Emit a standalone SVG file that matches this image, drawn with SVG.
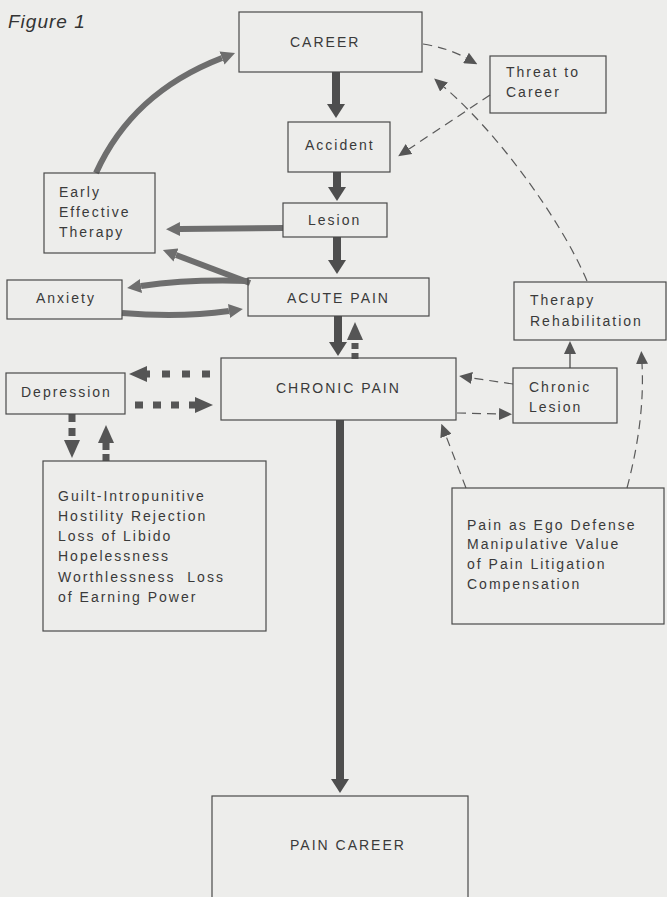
<svg xmlns="http://www.w3.org/2000/svg" width="667" height="897" viewBox="0 0 667 897">
<defs>
<style>
.bg{fill:#ededeb}
.box{fill:none;stroke:#4a4a4a;stroke-width:1.2}
.t{font-family:"Liberation Sans",Arial,sans-serif;font-size:14px;letter-spacing:2px;fill:#3a3a3a}
.fig{font-family:"Liberation Sans",Arial,sans-serif;font-size:19px;font-style:italic;letter-spacing:1px;fill:#333}
.main{fill:none;stroke:#4e4e4e;stroke-width:8}
.grey{fill:none;stroke:#6e6e6e;stroke-width:6}
.sq{fill:none;stroke:#555;stroke-width:7}
.thin{fill:none;stroke:#5a5a5a;stroke-width:1.2;stroke-dasharray:9 6}
.solid{fill:none;stroke:#5a5a5a;stroke-width:1.4}
</style>
<marker id="hd" markerUnits="userSpaceOnUse" markerWidth="14" markerHeight="18" refX="0" refY="9" orient="auto"><path d="M0,0 L14,9 L0,18 z" fill="#4e4e4e"/></marker>
<marker id="hg" markerUnits="userSpaceOnUse" markerWidth="14" markerHeight="14" refX="0" refY="7" orient="auto"><path d="M0,0 L14,7 L0,14 z" fill="#6e6e6e"/></marker>
<marker id="hs" markerUnits="userSpaceOnUse" markerWidth="18" markerHeight="16" refX="0" refY="8" orient="auto"><path d="M0,0 L18,8 L0,16 z" fill="#555"/></marker>
<marker id="ht" markerUnits="userSpaceOnUse" markerWidth="13" markerHeight="12" refX="0" refY="6" orient="auto"><path d="M0,0 L13,6 L0,12 z" fill="#555"/></marker>
</defs>
<rect class="bg" x="0" y="0" width="667" height="897"/>
<text class="fig" x="8" y="28">Figure 1</text>

<g id="connectors">
<path class="main" d="M336 72 L336 104" marker-end="url(#hd)"/>
<path class="main" d="M337 172 L337 187" marker-end="url(#hd)"/>
<path class="main" d="M337 237 L337 260" marker-end="url(#hd)"/>
<path class="main" d="M338 316 L338 342" marker-end="url(#hd)"/>
<path class="main" d="M340 420 L340 779" stroke-width="7" marker-end="url(#hd)"/>
<path class="sq" d="M355 359 L355 340" stroke-width="6" stroke-dasharray="6 4" marker-end="url(#hs)"/>
<path class="grey" d="M96 173 C120 120 160 82 222 58" marker-end="url(#hg)"/>
<path class="grey" d="M283 228 L180 229" marker-end="url(#hg)"/>
<path class="grey" d="M250 283 L176 255" marker-end="url(#hg)"/>
<path class="grey" d="M248 281 Q190 279 141 286" marker-end="url(#hg)"/>
<path class="grey" d="M122 313 Q180 318 229 311" marker-end="url(#hg)"/>
<path class="sq" d="M210 374 L147 374" stroke-dasharray="8 12" marker-end="url(#hs)"/>
<path class="sq" d="M135 405 L195 405" stroke-dasharray="8 10" marker-end="url(#hs)"/>
<path class="sq" d="M72 414 L72 440" stroke-dasharray="8 6" marker-end="url(#hs)"/>
<path class="sq" d="M106 461 L106 443" stroke-dasharray="7 4" marker-end="url(#hs)"/>
<path class="thin" d="M423 44 Q448 48 466 58" marker-end="url(#ht)"/>
<path class="thin" d="M490 95 L409 149" marker-end="url(#ht)"/>
<path class="thin" d="M587 281 C562 222 500 135 444 87" marker-end="url(#ht)"/>
<path class="thin" d="M513 384 L472 378" marker-end="url(#ht)"/>
<path class="thin" d="M457 413 L499 414" marker-end="url(#ht)"/>
<path class="solid" d="M570 368 L570 354" marker-end="url(#ht)"/>
<path class="thin" d="M466 488 L446 436" marker-end="url(#ht)"/>
<path class="thin" d="M627 488 Q645 420 642 364" marker-end="url(#ht)"/>
</g>

<g id="career"><rect class="box" x="239" y="12" width="183" height="60"/><text class="t" x="290" y="47">CAREER</text></g>
<g id="threat"><rect class="box" x="490" y="56" width="116" height="57"/><text class="t" x="506" y="77">Threat to</text><text class="t" x="506" y="97">Career</text></g>
<g id="accident"><rect class="box" x="288" y="122" width="102" height="50"/><text class="t" x="305" y="150">Accident</text></g>
<g id="lesion"><rect class="box" x="283" y="203" width="104" height="34"/><text class="t" x="308" y="225">Lesion</text></g>
<g id="early"><rect class="box" x="44" y="173" width="111" height="80"/><text class="t" x="59" y="197">Early</text><text class="t" x="59" y="217">Effective</text><text class="t" x="59" y="237">Therapy</text></g>
<g id="anxiety"><rect class="box" x="7" y="280" width="115" height="39"/><text class="t" x="36" y="303">Anxiety</text></g>
<g id="acute"><rect class="box" x="248" y="278" width="181" height="38"/><text class="t" x="287" y="303">ACUTE PAIN</text></g>
<g id="therapy"><rect class="box" x="514" y="282" width="152" height="58"/><text class="t" x="530" y="305">Therapy</text><text class="t" x="530" y="326">Rehabilitation</text></g>
<g id="depression"><rect class="box" x="6" y="373" width="119" height="41"/><text class="t" x="21" y="397">Depression</text></g>
<g id="chronic"><rect class="box" x="221" y="358" width="235" height="62"/><text class="t" x="276" y="393">CHRONIC PAIN</text></g>
<g id="chronic-lesion"><rect class="box" x="513" y="368" width="104" height="55"/><text class="t" x="529" y="392">Chronic</text><text class="t" x="529" y="412">Lesion</text></g>
<g id="guilt"><rect class="box" x="43" y="461" width="223" height="170"/>
<text class="t" x="58" y="501">Guilt-Intropunitive</text>
<text class="t" x="58" y="521">Hostility Rejection</text>
<text class="t" x="58" y="541">Loss of Libido</text>
<text class="t" x="58" y="561">Hopelessness</text>
<text class="t" x="58" y="582" xml:space="preserve">Worthlessness  Loss</text>
<text class="t" x="58" y="602">of Earning Power</text></g>
<g id="ego"><rect class="box" x="452" y="488" width="212" height="136"/>
<text class="t" x="467" y="530">Pain as Ego Defense</text>
<text class="t" x="467" y="549">Manipulative Value</text>
<text class="t" x="467" y="569">of Pain Litigation</text>
<text class="t" x="467" y="589">Compensation</text></g>
<g id="pain-career"><rect class="box" x="212" y="796" width="256" height="110"/><text class="t" x="290" y="850">PAIN CAREER</text></g>
</svg>
